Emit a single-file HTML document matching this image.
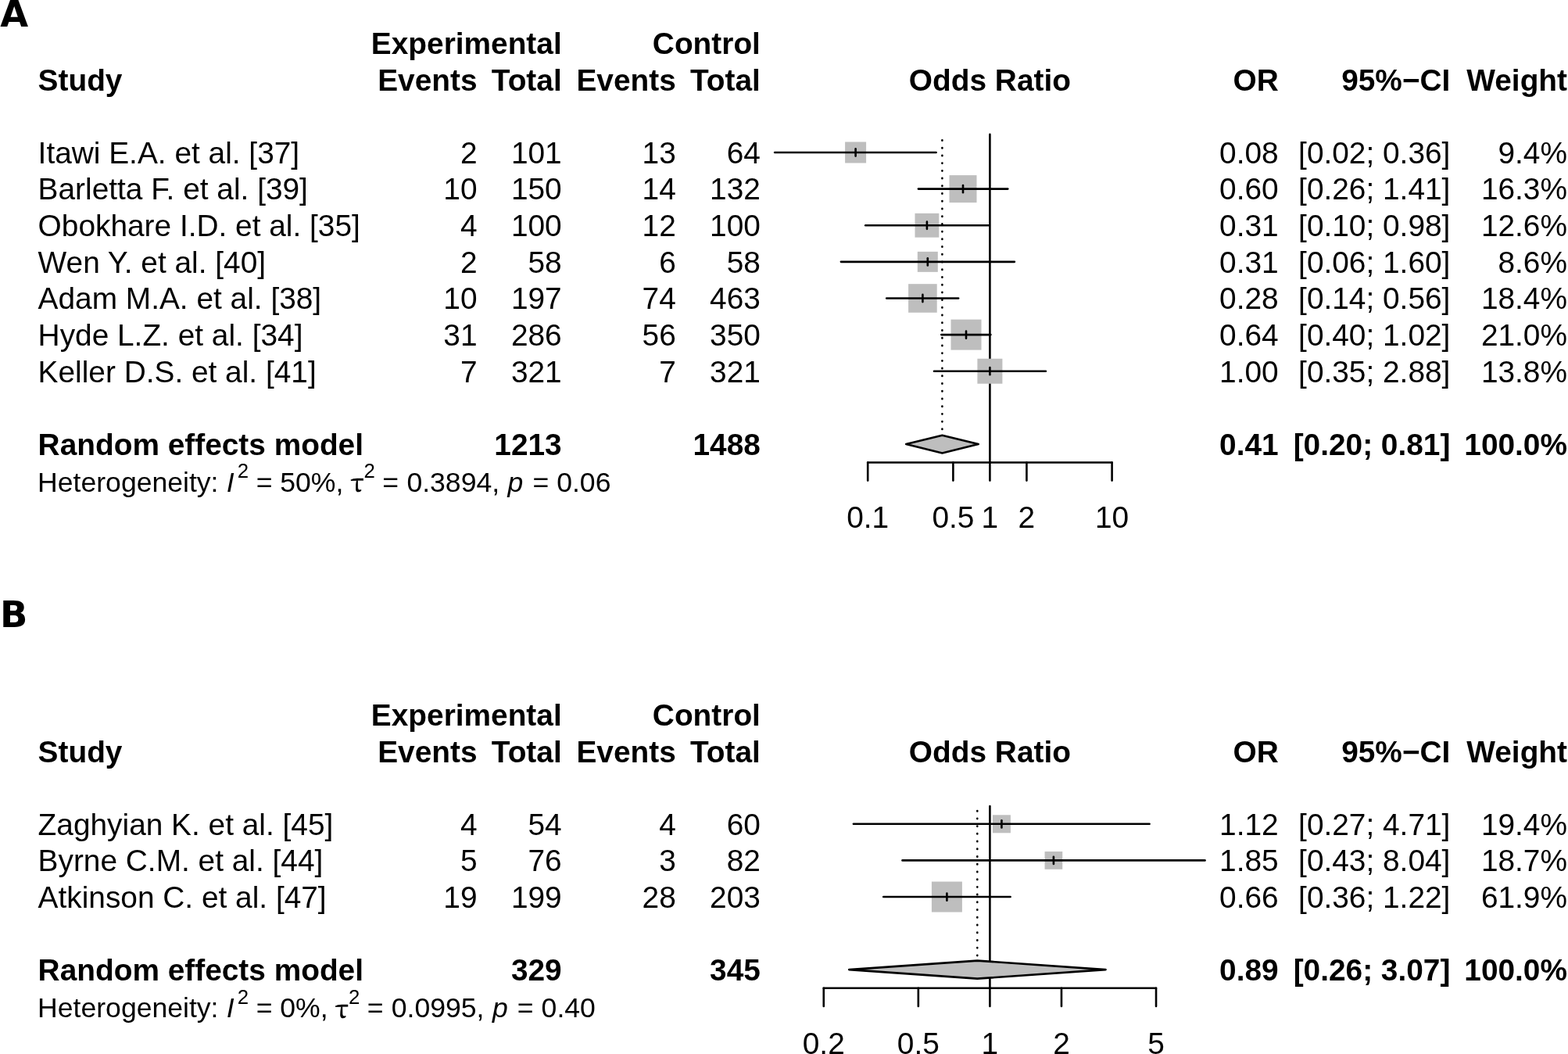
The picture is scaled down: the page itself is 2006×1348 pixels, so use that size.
<!DOCTYPE html>
<html><head><meta charset="utf-8"><title>Forest plot</title><style>html,body{margin:0;padding:0;background:#fff;overflow:hidden;}svg{display:block;}</style></head><body>
<svg width="2006" height="1348" viewBox="0 0 2006 1348">
<rect width="2006" height="1348" fill="#fff"/>
<g font-family="'Liberation Sans', Arial, sans-serif" font-size="38.85" fill="#000">
<text x="0.30" y="33.80" style="font-family:'DejaVu Sans',sans-serif;font-weight:bold;font-size:46.4px">A</text>
<text x="718.70" y="69.29" text-anchor="end" style="font-weight:bold">Experimental</text>
<text x="972.90" y="69.29" text-anchor="end" style="font-weight:bold">Control</text>
<text x="48.60" y="115.81" style="font-weight:bold">Study</text>
<text x="610.50" y="115.81" text-anchor="end" style="font-weight:bold">Events</text>
<text x="718.70" y="115.81" text-anchor="end" style="font-weight:bold">Total</text>
<text x="864.80" y="115.81" text-anchor="end" style="font-weight:bold">Events</text>
<text x="972.90" y="115.81" text-anchor="end" style="font-weight:bold">Total</text>
<text x="1266.40" y="115.81" text-anchor="middle" style="font-weight:bold">Odds Ratio</text>
<text x="1635.70" y="115.81" text-anchor="end" style="font-weight:bold">OR</text>
<text x="1855.40" y="115.81" text-anchor="end" style="font-weight:bold">95%−CI</text>
<text x="2005.00" y="115.81" text-anchor="end" style="font-weight:bold">Weight</text>
<line x1="1266.40" y1="171.90" x2="1266.40" y2="591.50" stroke="#000" stroke-width="2.60" stroke-linecap="round"/>
<line x1="1205.40" y1="179.30" x2="1205.40" y2="549.50" stroke="#000" stroke-width="2.6" stroke-dasharray="0.4 9.32" stroke-linecap="round"/>
<text x="48.60" y="208.85">Itawi E.A. et al. [37]</text>
<text x="610.50" y="208.85" text-anchor="end">2</text>
<text x="718.70" y="208.85" text-anchor="end">101</text>
<text x="864.80" y="208.85" text-anchor="end">13</text>
<text x="972.90" y="208.85" text-anchor="end">64</text>
<text x="1635.70" y="208.85" text-anchor="end">0.08</text>
<text x="1855.40" y="208.85" text-anchor="end">[0.02; 0.36]</text>
<text x="2005.00" y="208.85" text-anchor="end">9.4%</text>
<rect x="1081.10" y="181.50" width="27.00" height="27.00" fill="#bebebe"/>
<line x1="991.10" y1="195.00" x2="1197.60" y2="195.00" stroke="#000" stroke-width="2.60" stroke-linecap="round"/>
<line x1="1094.60" y1="190.40" x2="1094.60" y2="199.60" stroke="#000" stroke-width="2.60" stroke-linecap="round"/>
<text x="48.60" y="255.47">Barletta F. et al. [39]</text>
<text x="610.50" y="255.47" text-anchor="end">10</text>
<text x="718.70" y="255.47" text-anchor="end">150</text>
<text x="864.80" y="255.47" text-anchor="end">14</text>
<text x="972.90" y="255.47" text-anchor="end">132</text>
<text x="1635.70" y="255.47" text-anchor="end">0.60</text>
<text x="1855.40" y="255.47" text-anchor="end">[0.26; 1.41]</text>
<text x="2005.00" y="255.47" text-anchor="end">16.3%</text>
<rect x="1214.50" y="224.12" width="35.00" height="35.00" fill="#bebebe"/>
<line x1="1174.90" y1="241.62" x2="1289.30" y2="241.62" stroke="#000" stroke-width="2.60" stroke-linecap="round"/>
<line x1="1232.00" y1="237.02" x2="1232.00" y2="246.22" stroke="#000" stroke-width="2.60" stroke-linecap="round"/>
<text x="48.60" y="302.09">Obokhare I.D. et al. [35]</text>
<text x="610.50" y="302.09" text-anchor="end">4</text>
<text x="718.70" y="302.09" text-anchor="end">100</text>
<text x="864.80" y="302.09" text-anchor="end">12</text>
<text x="972.90" y="302.09" text-anchor="end">100</text>
<text x="1635.70" y="302.09" text-anchor="end">0.31</text>
<text x="1855.40" y="302.09" text-anchor="end">[0.10; 0.98]</text>
<text x="2005.00" y="302.09" text-anchor="end">12.6%</text>
<rect x="1170.50" y="272.84" width="30.80" height="30.80" fill="#bebebe"/>
<line x1="1107.20" y1="288.24" x2="1264.90" y2="288.24" stroke="#000" stroke-width="2.60" stroke-linecap="round"/>
<line x1="1185.90" y1="283.64" x2="1185.90" y2="292.84" stroke="#000" stroke-width="2.60" stroke-linecap="round"/>
<text x="48.60" y="348.71">Wen Y. et al. [40]</text>
<text x="610.50" y="348.71" text-anchor="end">2</text>
<text x="718.70" y="348.71" text-anchor="end">58</text>
<text x="864.80" y="348.71" text-anchor="end">6</text>
<text x="972.90" y="348.71" text-anchor="end">58</text>
<text x="1635.70" y="348.71" text-anchor="end">0.31</text>
<text x="1855.40" y="348.71" text-anchor="end">[0.06; 1.60]</text>
<text x="2005.00" y="348.71" text-anchor="end">8.6%</text>
<rect x="1173.80" y="321.86" width="26.00" height="26.00" fill="#bebebe"/>
<line x1="1075.90" y1="334.86" x2="1297.90" y2="334.86" stroke="#000" stroke-width="2.60" stroke-linecap="round"/>
<line x1="1186.80" y1="330.26" x2="1186.80" y2="339.46" stroke="#000" stroke-width="2.60" stroke-linecap="round"/>
<text x="48.60" y="395.33">Adam M.A. et al. [38]</text>
<text x="610.50" y="395.33" text-anchor="end">10</text>
<text x="718.70" y="395.33" text-anchor="end">197</text>
<text x="864.80" y="395.33" text-anchor="end">74</text>
<text x="972.90" y="395.33" text-anchor="end">463</text>
<text x="1635.70" y="395.33" text-anchor="end">0.28</text>
<text x="1855.40" y="395.33" text-anchor="end">[0.14; 0.56]</text>
<text x="2005.00" y="395.33" text-anchor="end">18.4%</text>
<rect x="1162.10" y="363.18" width="36.60" height="36.60" fill="#bebebe"/>
<line x1="1134.20" y1="381.48" x2="1226.10" y2="381.48" stroke="#000" stroke-width="2.60" stroke-linecap="round"/>
<line x1="1180.40" y1="376.88" x2="1180.40" y2="386.08" stroke="#000" stroke-width="2.60" stroke-linecap="round"/>
<text x="48.60" y="441.95">Hyde L.Z. et al. [34]</text>
<text x="610.50" y="441.95" text-anchor="end">31</text>
<text x="718.70" y="441.95" text-anchor="end">286</text>
<text x="864.80" y="441.95" text-anchor="end">56</text>
<text x="972.90" y="441.95" text-anchor="end">350</text>
<text x="1635.70" y="441.95" text-anchor="end">0.64</text>
<text x="1855.40" y="441.95" text-anchor="end">[0.40; 1.02]</text>
<text x="2005.00" y="441.95" text-anchor="end">21.0%</text>
<rect x="1216.50" y="408.60" width="39.00" height="39.00" fill="#bebebe"/>
<line x1="1204.30" y1="428.10" x2="1267.40" y2="428.10" stroke="#000" stroke-width="2.60" stroke-linecap="round"/>
<line x1="1236.00" y1="423.50" x2="1236.00" y2="432.70" stroke="#000" stroke-width="2.60" stroke-linecap="round"/>
<text x="48.60" y="488.57">Keller D.S. et al. [41]</text>
<text x="610.50" y="488.57" text-anchor="end">7</text>
<text x="718.70" y="488.57" text-anchor="end">321</text>
<text x="864.80" y="488.57" text-anchor="end">7</text>
<text x="972.90" y="488.57" text-anchor="end">321</text>
<text x="1635.70" y="488.57" text-anchor="end">1.00</text>
<text x="1855.40" y="488.57" text-anchor="end">[0.35; 2.88]</text>
<text x="2005.00" y="488.57" text-anchor="end">13.8%</text>
<rect x="1250.40" y="458.72" width="32.00" height="32.00" fill="#bebebe"/>
<line x1="1195.00" y1="474.72" x2="1337.90" y2="474.72" stroke="#000" stroke-width="2.60" stroke-linecap="round"/>
<line x1="1266.40" y1="470.12" x2="1266.40" y2="479.32" stroke="#000" stroke-width="2.60" stroke-linecap="round"/>
<text x="48.60" y="581.81" style="font-weight:bold">Random effects model</text>
<text x="718.70" y="581.81" text-anchor="end" style="font-weight:bold">1213</text>
<text x="972.90" y="581.81" text-anchor="end" style="font-weight:bold">1488</text>
<text x="1635.70" y="581.81" text-anchor="end" style="font-weight:bold">0.41</text>
<text x="1855.40" y="581.81" text-anchor="end" style="font-weight:bold">[0.20; 0.81]</text>
<text x="2005.00" y="581.81" text-anchor="end" style="font-weight:bold">100.0%</text>
<polygon points="1159.20,568.10 1205.40,556.70 1251.70,568.10 1205.40,579.50" fill="#bebebe" stroke="#000" stroke-width="2.60" stroke-linejoin="round"/>
<text font-size="35.60"><tspan x="48.10" y="628.60">Heterogeneity:</tspan><tspan x="289.80" y="628.60" font-style="italic">I</tspan><tspan x="303.80" y="611.15" font-size="25.80">2</tspan><tspan x="327.80" y="628.60">=</tspan><tspan x="358.30" y="628.60">50%,</tspan><tspan x="448.45" y="629.10" font-family="Noto Serif CJK SC, Liberation Serif, serif" font-size="33.8" stroke="#000" stroke-width="0.7">τ</tspan><tspan x="465.60" y="611.15" font-size="25.80">2</tspan><tspan x="489.30" y="628.60">=</tspan><tspan x="520.40" y="628.60">0.3894,</tspan><tspan x="649.60" y="628.60" font-style="italic">p</tspan><tspan x="681.40" y="628.60">=</tspan><tspan x="712.20" y="628.60">0.06</tspan></text>
<line x1="1110.20" y1="591.50" x2="1422.60" y2="591.50" stroke="#000" stroke-width="2.60" stroke-linecap="round"/>
<line x1="1110.20" y1="591.50" x2="1110.20" y2="614.60" stroke="#000" stroke-width="2.60" stroke-linecap="round"/>
<text x="1110.20" y="674.60" text-anchor="middle">0.1</text>
<line x1="1219.38" y1="591.50" x2="1219.38" y2="614.60" stroke="#000" stroke-width="2.60" stroke-linecap="round"/>
<text x="1219.38" y="674.60" text-anchor="middle">0.5</text>
<line x1="1266.40" y1="591.50" x2="1266.40" y2="614.60" stroke="#000" stroke-width="2.60" stroke-linecap="round"/>
<text x="1266.40" y="674.60" text-anchor="middle">1</text>
<line x1="1313.42" y1="591.50" x2="1313.42" y2="614.60" stroke="#000" stroke-width="2.60" stroke-linecap="round"/>
<text x="1313.42" y="674.60" text-anchor="middle">2</text>
<line x1="1422.60" y1="591.50" x2="1422.60" y2="614.60" stroke="#000" stroke-width="2.60" stroke-linecap="round"/>
<text x="1422.60" y="674.60" text-anchor="middle">10</text>
<text x="0.00" y="802.10" style="font-family:'DejaVu Sans',sans-serif;font-weight:bold;font-size:46.4px">B</text>
<text x="718.70" y="928.09" text-anchor="end" style="font-weight:bold">Experimental</text>
<text x="972.90" y="928.09" text-anchor="end" style="font-weight:bold">Control</text>
<text x="48.60" y="974.61" style="font-weight:bold">Study</text>
<text x="610.50" y="974.61" text-anchor="end" style="font-weight:bold">Events</text>
<text x="718.70" y="974.61" text-anchor="end" style="font-weight:bold">Total</text>
<text x="864.80" y="974.61" text-anchor="end" style="font-weight:bold">Events</text>
<text x="972.90" y="974.61" text-anchor="end" style="font-weight:bold">Total</text>
<text x="1266.40" y="974.61" text-anchor="middle" style="font-weight:bold">Odds Ratio</text>
<text x="1635.70" y="974.61" text-anchor="end" style="font-weight:bold">OR</text>
<text x="1855.40" y="974.61" text-anchor="end" style="font-weight:bold">95%−CI</text>
<text x="2005.00" y="974.61" text-anchor="end" style="font-weight:bold">Weight</text>
<line x1="1266.40" y1="1031.10" x2="1266.40" y2="1263.80" stroke="#000" stroke-width="2.60" stroke-linecap="round"/>
<line x1="1250.30" y1="1037.00" x2="1250.30" y2="1222.30" stroke="#000" stroke-width="2.6" stroke-dasharray="0.4 9.32" stroke-linecap="round"/>
<text x="48.60" y="1067.65">Zaghyian K. et al. [45]</text>
<text x="610.50" y="1067.65" text-anchor="end">4</text>
<text x="718.70" y="1067.65" text-anchor="end">54</text>
<text x="864.80" y="1067.65" text-anchor="end">4</text>
<text x="972.90" y="1067.65" text-anchor="end">60</text>
<text x="1635.70" y="1067.65" text-anchor="end">1.12</text>
<text x="1855.40" y="1067.65" text-anchor="end">[0.27; 4.71]</text>
<text x="2005.00" y="1067.65" text-anchor="end">19.4%</text>
<rect x="1269.90" y="1042.30" width="23.00" height="23.00" fill="#bebebe"/>
<line x1="1091.90" y1="1053.80" x2="1470.60" y2="1053.80" stroke="#000" stroke-width="2.60" stroke-linecap="round"/>
<line x1="1281.40" y1="1049.20" x2="1281.40" y2="1058.40" stroke="#000" stroke-width="2.60" stroke-linecap="round"/>
<text x="48.60" y="1114.27">Byrne C.M. et al. [44]</text>
<text x="610.50" y="1114.27" text-anchor="end">5</text>
<text x="718.70" y="1114.27" text-anchor="end">76</text>
<text x="864.80" y="1114.27" text-anchor="end">3</text>
<text x="972.90" y="1114.27" text-anchor="end">82</text>
<text x="1635.70" y="1114.27" text-anchor="end">1.85</text>
<text x="1855.40" y="1114.27" text-anchor="end">[0.43; 8.04]</text>
<text x="2005.00" y="1114.27" text-anchor="end">18.7%</text>
<rect x="1336.55" y="1089.07" width="22.70" height="22.70" fill="#bebebe"/>
<line x1="1154.50" y1="1100.42" x2="1541.50" y2="1100.42" stroke="#000" stroke-width="2.60" stroke-linecap="round"/>
<line x1="1347.90" y1="1095.82" x2="1347.90" y2="1105.02" stroke="#000" stroke-width="2.60" stroke-linecap="round"/>
<text x="48.60" y="1160.89">Atkinson C. et al. [47]</text>
<text x="610.50" y="1160.89" text-anchor="end">19</text>
<text x="718.70" y="1160.89" text-anchor="end">199</text>
<text x="864.80" y="1160.89" text-anchor="end">28</text>
<text x="972.90" y="1160.89" text-anchor="end">203</text>
<text x="1635.70" y="1160.89" text-anchor="end">0.66</text>
<text x="1855.40" y="1160.89" text-anchor="end">[0.36; 1.22]</text>
<text x="2005.00" y="1160.89" text-anchor="end">61.9%</text>
<rect x="1191.90" y="1127.54" width="39.00" height="39.00" fill="#bebebe"/>
<line x1="1130.20" y1="1147.04" x2="1292.60" y2="1147.04" stroke="#000" stroke-width="2.60" stroke-linecap="round"/>
<line x1="1211.40" y1="1142.44" x2="1211.40" y2="1151.64" stroke="#000" stroke-width="2.60" stroke-linecap="round"/>
<text x="48.60" y="1254.13" style="font-weight:bold">Random effects model</text>
<text x="718.70" y="1254.13" text-anchor="end" style="font-weight:bold">329</text>
<text x="972.90" y="1254.13" text-anchor="end" style="font-weight:bold">345</text>
<text x="1635.70" y="1254.13" text-anchor="end" style="font-weight:bold">0.89</text>
<text x="1855.40" y="1254.13" text-anchor="end" style="font-weight:bold">[0.26; 3.07]</text>
<text x="2005.00" y="1254.13" text-anchor="end" style="font-weight:bold">100.0%</text>
<polygon points="1086.30,1240.10 1250.30,1228.60 1414.50,1240.10 1250.30,1251.60" fill="#bebebe" stroke="#000" stroke-width="2.60" stroke-linejoin="round"/>
<text font-size="35.60"><tspan x="48.10" y="1301.00">Heterogeneity:</tspan><tspan x="289.80" y="1301.00" font-style="italic">I</tspan><tspan x="303.80" y="1283.55" font-size="25.80">2</tspan><tspan x="327.80" y="1301.00">=</tspan><tspan x="358.30" y="1301.00">0%,</tspan><tspan x="428.85" y="1301.50" font-family="Noto Serif CJK SC, Liberation Serif, serif" font-size="33.8" stroke="#000" stroke-width="0.7">τ</tspan><tspan x="446.00" y="1283.55" font-size="25.80">2</tspan><tspan x="469.70" y="1301.00">=</tspan><tspan x="500.80" y="1301.00">0.0995,</tspan><tspan x="630.00" y="1301.00" font-style="italic">p</tspan><tspan x="661.80" y="1301.00">=</tspan><tspan x="692.60" y="1301.00">0.40</tspan></text>
<line x1="1053.77" y1="1263.80" x2="1479.03" y2="1263.80" stroke="#000" stroke-width="2.60" stroke-linecap="round"/>
<line x1="1053.77" y1="1263.80" x2="1053.77" y2="1286.90" stroke="#000" stroke-width="2.60" stroke-linecap="round"/>
<text x="1053.77" y="1347.70" text-anchor="middle">0.2</text>
<line x1="1174.83" y1="1263.80" x2="1174.83" y2="1286.90" stroke="#000" stroke-width="2.60" stroke-linecap="round"/>
<text x="1174.83" y="1347.70" text-anchor="middle">0.5</text>
<line x1="1266.40" y1="1263.80" x2="1266.40" y2="1286.90" stroke="#000" stroke-width="2.60" stroke-linecap="round"/>
<text x="1266.40" y="1347.70" text-anchor="middle">1</text>
<line x1="1357.97" y1="1263.80" x2="1357.97" y2="1286.90" stroke="#000" stroke-width="2.60" stroke-linecap="round"/>
<text x="1357.97" y="1347.70" text-anchor="middle">2</text>
<line x1="1479.03" y1="1263.80" x2="1479.03" y2="1286.90" stroke="#000" stroke-width="2.60" stroke-linecap="round"/>
<text x="1479.03" y="1347.70" text-anchor="middle">5</text>
</g></svg>
</body></html>
